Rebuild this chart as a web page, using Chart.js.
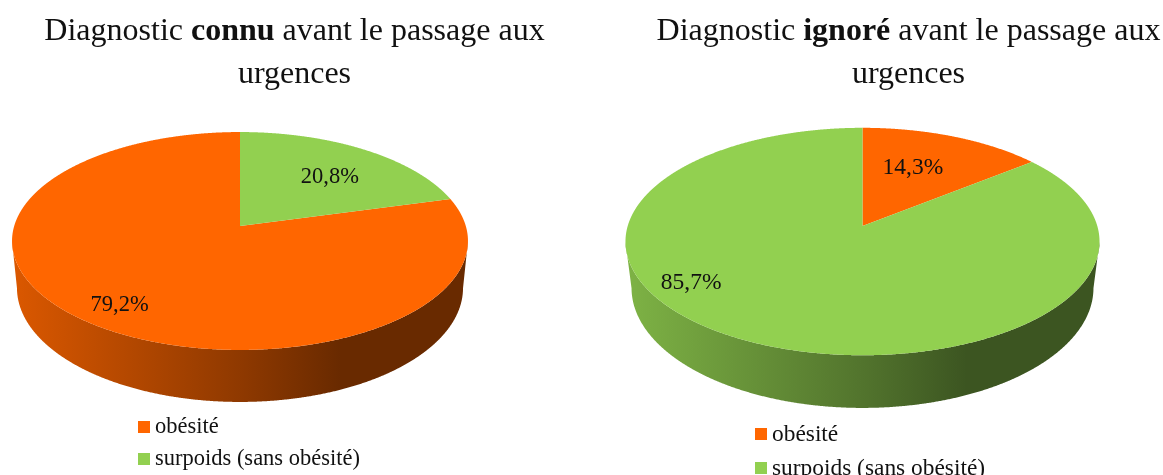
<!DOCTYPE html>
<html lang="fr">
<head>
<meta charset="utf-8">
<title>Diagnostic</title>
<script src="https://cdn.jsdelivr.net/npm/chart.js@4"></script>
<style>
html,body{margin:0;padding:0;background:#fff;width:1163px;height:475px;overflow:hidden}
#stage{position:relative;width:1163px;height:475px;overflow:hidden;filter:blur(0.6px);font-family:"Liberation Serif","Times New Roman",serif;color:#111}
canvas{position:absolute;top:0}
.t{position:absolute;white-space:nowrap;transform:translateX(-50%);font-size:32px;line-height:32px}
.lg{position:absolute;white-space:nowrap;line-height:22px}
.lg i{position:absolute;display:block;width:12px;height:12px}
.lg span{position:absolute;left:17px;white-space:nowrap}
</style>
</head>
<body>
<div id="stage">
  <canvas id="c1" width="581" height="475" style="left:0"></canvas>
  <canvas id="c2" width="582" height="475" style="left:581px"></canvas>
  <div class="t" style="left:294.5px;top:13px">Diagnostic <b>connu</b> avant le passage aux</div>
  <div class="t" style="left:294.5px;top:56px">urgences</div>
  <div class="t" style="left:908.5px;top:13px">Diagnostic <b>ignoré</b> avant le passage aux</div>
  <div class="t" style="left:908.5px;top:56px">urgences</div>
  <div class="lg" id="lg1" style="left:138px;top:415px;font-size:22.5px"></div>
  <div class="lg" id="lg2" style="left:755px;top:422px;font-size:23.4px"></div>
</div>
<script>
const categories = ['obésité', 'surpoids (sans obésité)'];
const colors = ['#FF6600', '#92D050'];
const valuesKnown = [79.2, 20.8];
const valuesIgnored = [14.3, 85.7];
const labelsKnown = ['79,2%', '20,8%'];
const labelsIgnored = ['14,3%', '85,7%'];

function project(g, pr, a, r) {
  const x = r * Math.cos(a), y = r * Math.sin(a), d = 1 + g.p * y;
  return [g.cx + pr.R * x / d, pr.y0 + pr.S * y / d];
}
function rgb(hex) { return [1, 3, 5].map(i => parseInt(hex.slice(i, i + 2), 16)); }

const pie3d = {
  id: 'pie3d',
  afterDatasetUpdate(chart, args, o) {
    args.meta.data.forEach(el => {
      el.draw = function (ctx) {
        ctx.save();
        ctx.beginPath();
        const p0 = project(o, o.top, 0, 0);
        ctx.moveTo(p0[0], p0[1]);
        const n = Math.ceil((this.endAngle - this.startAngle) / 0.004);
        for (let i = 0; i <= n; i++) {
          const q = project(o, o.top, this.startAngle + (this.endAngle - this.startAngle) * i / n, 1);
          ctx.lineTo(q[0], q[1]);
        }
        ctx.closePath();
        ctx.fillStyle = this.options.backgroundColor;
        ctx.fill();
        ctx.restore();
      };
    });
  },
  beforeDatasetsDraw(chart, args, o) {
    const ctx = chart.ctx;
    chart.getDatasetMeta(0).data.forEach(el => {
      const c = rgb(el.options.backgroundColor);
      const g = ctx.createLinearGradient(o.cx - o.halfWidth, 0, o.cx + o.halfWidth, 0);
      o.shade.forEach(([t, k]) => g.addColorStop(t, `rgb(${c.map(v => Math.round(v * k)).join(',')})`));
      let run = [];
      const flush = () => {
        if (run.length > 1) {
          ctx.beginPath();
          run.forEach((a, i) => { const q = project(o, o.top, a, 1); i ? ctx.lineTo(q[0], q[1]) : ctx.moveTo(q[0], q[1]); });
          run.slice().reverse().forEach(a => { const q = project(o, o.base, a, 1); ctx.lineTo(q[0], q[1]); });
          ctx.closePath();
          ctx.fillStyle = g;
          ctx.fill();
        }
        run = [];
      };
      const n = Math.ceil((el.endAngle - el.startAngle) / 0.004);
      for (let i = 0; i <= n; i++) {
        const a = el.startAngle + (el.endAngle - el.startAngle) * i / n;
        if (Math.sin(a) >= -o.p) run.push(a); else flush();
      }
      flush();
    });
  },
  afterDatasetsDraw(chart, args, o) {
    const ctx = chart.ctx;
    ctx.save();
    ctx.font = o.labelFont;
    ctx.fillStyle = '#111';
    ctx.textAlign = 'center';
    ctx.textBaseline = 'middle';
    chart.getDatasetMeta(0).data.forEach((el, i) => {
      const q = project(o, o.top, (el.startAngle + el.endAngle) / 2, o.labelRadius[i]);
      ctx.fillText(o.labels[i], q[0] + o.labelShift[i][0], q[1] + o.labelShift[i][1]);
    });
    ctx.restore();
  }
};

function build(id, legendId, values, labels, rotation, geom) {
  const chart = new Chart(document.getElementById(id), {
    type: 'pie',
    data: { labels: categories, datasets: [{ data: values, backgroundColor: colors, borderWidth: 0 }] },
    options: {
      responsive: false,
      animation: false,
      rotation,
      layout: { padding: 0 },
      plugins: {
        legend: { display: false },
        tooltip: { enabled: false },
        pie3d: Object.assign({ labels }, geom)
      }
    },
    plugins: [pie3d]
  });
  const box = document.getElementById(legendId);
  const items = chart.options.plugins.legend.labels.generateLabels(chart);
  items.forEach((it, i) => {
    const top = i * geom.legendStep;
    const sq = document.createElement('i');
    sq.style.background = it.fillStyle;
    sq.style.top = (top + 6) + 'px';
    const tx = document.createElement('span');
    tx.textContent = it.text;
    tx.style.top = top + 'px';
    box.appendChild(sq);
    box.appendChild(tx);
  });
}

const shade = [[0, 0.86], [0.5, 0.56], [0.72, 0.41], [1, 0.41]];

build('c1', 'lg1', valuesKnown, labelsKnown, 360 * valuesKnown[1] / 100, {
  cx: 240, p: -0.1376, halfWidth: 228,
  top: { R: 225.8, S: 106.9, y0: 226 },
  base: { R: 220.9, S: 111.8, y0: 272.3 },
  shade, legendStep: 31.5,
  labelFont: '22.5px "Liberation Serif"',
  labelRadius: [0.8, 0.68],
  labelShift: [[0, 5], [3, 5]]
});

build('c2', 'lg2', valuesIgnored, labelsIgnored, 0, {
  cx: 281.5, p: -0.1366, halfWidth: 237,
  top: { R: 234.8, S: 111.6, y0: 226 },
  base: { R: 228.8, S: 117.7, y0: 271.6 },
  shade, legendStep: 34,
  labelFont: '23.5px "Liberation Serif"',
  labelRadius: [0.56, 0.5],
  labelShift: [[-3, -6], [-117, 3]]
});
</script>
</body>
</html>
